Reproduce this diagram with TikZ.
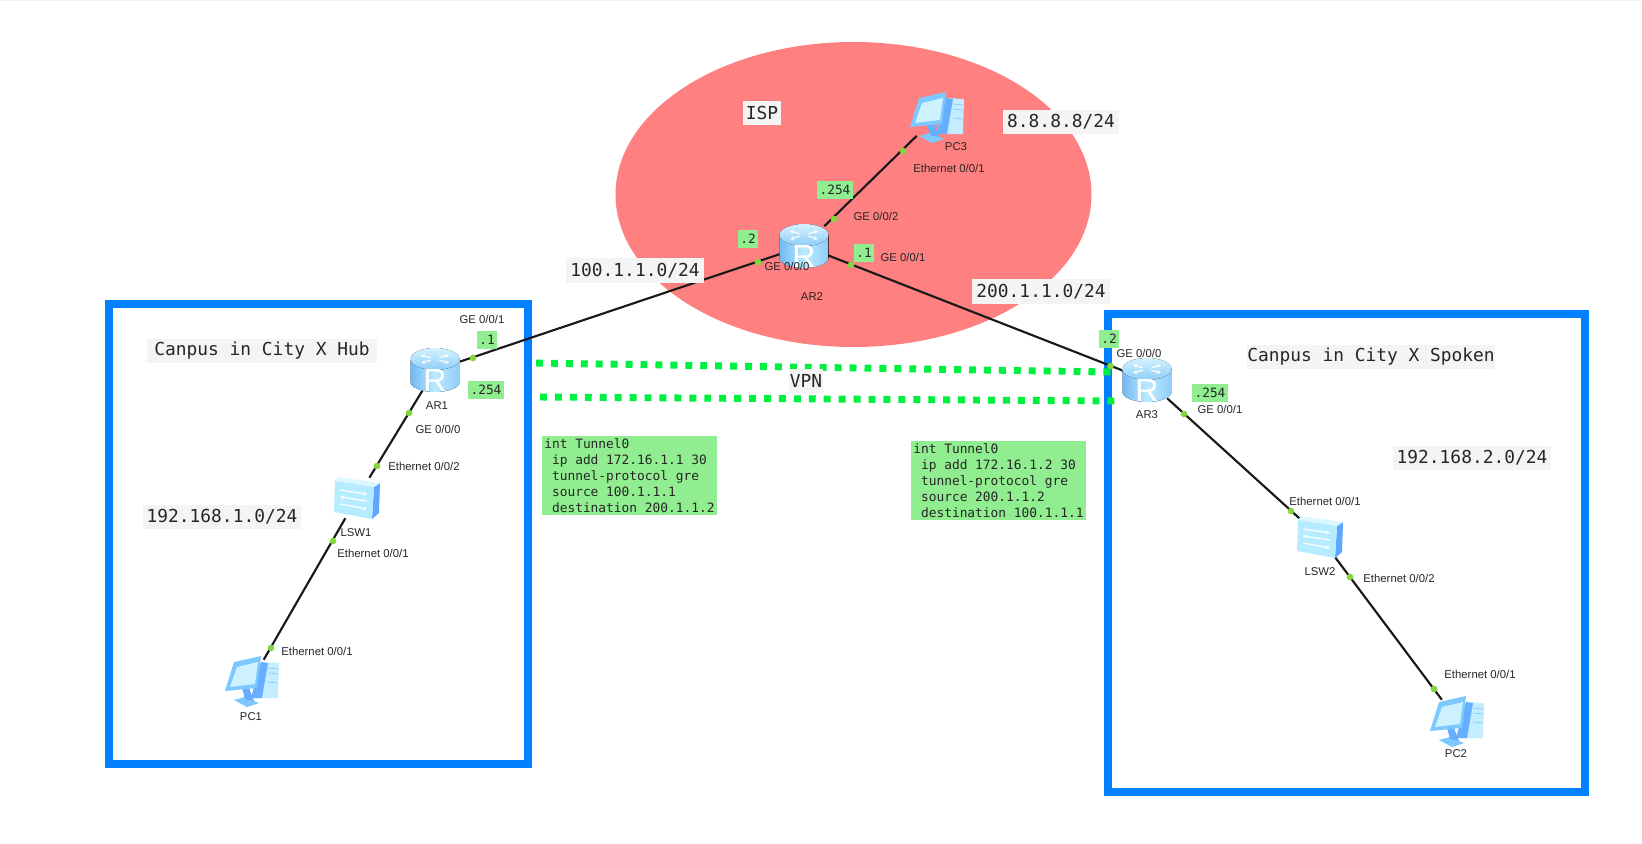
\documentclass[tikz,border=0pt]{standalone}
\usepackage{fontspec}
\setmainfont{Liberation Sans}
\newfontfamily\codefont{DejaVu Sans Mono}
\usetikzlibrary{arrows.meta}
\definecolor{ispred}{HTML}{FF8080}
\definecolor{boxblue}{HTML}{0080FF}
\definecolor{vpngreen}{HTML}{00F040}
\definecolor{notegreen}{HTML}{90EE90}
\definecolor{labelgrey}{HTML}{F4F4F4}
\definecolor{portgreen}{HTML}{84D63A}
\definecolor{rside}{HTML}{6FB9F4}
\definecolor{rsidelight}{HTML}{BDEBFF}
\definecolor{rtop}{HTML}{D4F2FF}
\definecolor{rtopdark}{HTML}{8ECDF6}
\definecolor{pcframe}{HTML}{7CC8FF}
\definecolor{pcscreen}{HTML}{CDF1FF}
\definecolor{pctower}{HTML}{C4EEFF}
\definecolor{pcside}{HTML}{66AEFF}
\definecolor{swfront}{HTML}{B6ECFF}
\definecolor{swtop}{HTML}{DDF7FF}
\definecolor{swside}{HTML}{5EA6FF}
\tikzset{
  x=0.75pt,y=-0.75pt,
  zone/.style={draw=boxblue,line width=6pt},
  link/.style={draw=black!90,line width=1.6pt},
  vpnline/.style={draw=vpngreen,line width=5.2pt,dash pattern=on 5.2pt off 6pt},
  iconbox/.style={inner sep=0pt,minimum width=30pt,minimum height=30pt},
  portdot/.style={circle,fill=portgreen,inner sep=0pt,minimum size=5pt},
  devlabel/.style={inner sep=0pt,font=\fontsize{8.5}{10}\selectfont,text=black!85},
  biglabel/.style={fill=labelgrey,inner sep=0pt,minimum height=18.5pt,font=\codefont\fontsize{13.4}{15}\selectfont,text=black!85},
  iplabel/.style={fill=notegreen,inner sep=0pt,minimum height=13pt,font=\codefont\fontsize{9.6}{11}\selectfont,text=black!85},
  notebox/.style={fill=notegreen,inner sep=1.5pt,align=left,anchor=north west,font=\codefont\fontsize{9.65}{12.15}\selectfont,text=black!85},
  pics/router/.style={code={
    \fill[left color=rside,right color=rside!60!rsidelight,middle color=rsidelight] (-24.5,-11) -- (-24.5,12) arc[start angle=180,end angle=0,x radius=24.5,y radius=10] -- (24.5,-11) -- cycle;
    \fill[top color=rtop,bottom color=rtopdark] (0,-11) ellipse[x radius=24.5,y radius=11];
    \foreach \a in {30,150,210,330}{
      \draw[white,line width=0.8pt,-{Stealth[length=3pt,width=3pt]}] ([shift={(0,-11)}]\a:5 and 2.5) -- ([shift={(0,-11)}]\a:16 and 8);
    }
    \node[text=white,inner sep=0pt,font=\fontsize{24}{24}\selectfont] at (0,10) {R};
  }},
  pics/pc/.style={code={
    \fill[pctower] (9,-18) -- (27,-17) -- (26,18) -- (-1,18) -- cycle;
    \fill[pcside] (9,-18) -- (16,-17) -- (10,18) -- (-1,18) -- cycle;
    \fill[pcframe] (-18,20) -- (-7,17) -- (7,23) -- (-5,27) -- cycle;
    \fill[pcside] (-10,8) -- (-3,8) -- (2,21) -- (-7,19) -- cycle;
    \fill[pcframe] (-18,-18) -- (9,-24) -- (5,8) -- (-27,11) -- cycle;
    \fill[pcscreen] (-15,-13) -- (6,-18) -- (3,4) -- (-22,7) -- cycle;
    \draw[pcframe,line width=0.5pt] (16,-12) -- (26,-11) (16,-7) -- (26,-6) (16,2) -- (26,3);
  }},
  pics/switch/.style={code={
    \fill[swside] (17,-11) -- (23,-15) -- (22,15) -- (15,21) -- cycle;
    \fill[swtop] (-19,-21) -- (-22,-17) -- (17,-11) -- (23,-15) -- cycle;
    \fill[swfront] (-22,-17) -- (17,-11) -- (15,21) -- (-23,14) -- cycle;
    \draw[white,line width=0.9pt,-{Stealth[length=3pt,width=3.5pt]}] (-17,-8) -- (10,-4);
    \draw[white,line width=0.9pt,{Stealth[length=3pt,width=3.5pt]}-] (-17,-1) -- (10,3);
    \draw[white,line width=0.9pt,-{Stealth[length=3pt,width=3.5pt]}] (-17,6) -- (10,11);
  }},
}
\begin{document}
\begin{tikzpicture}
\useasboundingbox (0,0) rectangle (1642,843);
\fill[white] (0,0) rectangle (1642,843);
\fill[black!6] (0,0) rectangle (1642,1);
% zones
\fill[ispred] (853.5,194.5) ellipse[x radius=238,y radius=152.5];
\draw[zone] (108.5,304) rectangle (528,764);
\draw[zone] (1108,314) rectangle (1585,792);
% device anchors
\node[iconbox] (ar1) at (435,370) {};
\node[iconbox] (ar2) at (804,246) {};
\node[iconbox] (ar3) at (1147,380) {};
\node[iconbox] (lsw1) at (357,498) {};
\node[iconbox] (lsw2) at (1320,537) {};
\node[iconbox] (pc1) at (252,680) {};
\node[iconbox] (pc2) at (1457,720) {};
\node[iconbox] (pc3) at (937,116) {};
% links
\draw[link] (ar1) -- (ar2);
\draw[link] (ar2) -- (ar3);
\draw[link] (ar2) -- (pc3);
\draw[link] (ar1) -- (lsw1);
\draw[link] (lsw1) -- (pc1);
\draw[link] (ar3) -- (lsw2);
\draw[link] (lsw2) -- (pc2);
% vpn
\coordinate (v1a) at (536,363);
\coordinate (v1b) at (1112,372);
\coordinate (v2a) at (540,397);
\coordinate (v2b) at (1118,401);
\draw[vpnline] (v1a) -- (v1b);
\draw[vpnline] (v2a) -- (v2b);
% icons
\pic at (ar1) {router};
\pic at (ar2) {router};
\pic at (ar3) {router};
\pic at (lsw1) {switch};
\pic at (lsw2) {switch};
\pic at (pc1) {pc};
\pic at (pc2) {pc};
\pic at (pc3) {pc};
% port dots
\node[portdot] (p1) at (473,358) {};
\node[portdot] (p2) at (758,262) {};
\node[portdot] (p3) at (851,265) {};
\node[portdot] (p4) at (1110.5,366) {};
\node[portdot] (p5) at (834,219) {};
\node[portdot] (p6) at (903,151) {};
\node[portdot] (p7) at (409,413) {};
\node[portdot] (p8) at (377,466) {};
\node[portdot] (p9) at (333,541) {};
\node[portdot] (p10) at (271,648) {};
\node[portdot] (p11) at (1184,414) {};
\node[portdot] (p12) at (1291,511) {};
\node[portdot] (p13) at (1350,577) {};
\node[portdot] (p14) at (1434,689) {};
% device names
\node[devlabel] (lar1) at (437,406) {AR1};
\node[devlabel] (lar2) at (812,297) {AR2};
\node[devlabel] (lar3) at (1147,415) {AR3};
\node[devlabel] (llsw1) at (356,533) {LSW1};
\node[devlabel] (llsw2) at (1320,572) {LSW2};
\node[devlabel] (lpc1) at (251,717) {PC1};
\node[devlabel] (lpc2) at (1456,754) {PC2};
\node[devlabel] (lpc3) at (956,147) {PC3};
% port names
\node[devlabel] (g1) at (482,319) {GE 0/0/1};
\node[devlabel] (g2) at (438,429) {GE 0/0/0};
\node[devlabel] (g3) at (424,466) {Ethernet 0/0/2};
\node[devlabel] (g4) at (373,553) {Ethernet 0/0/1};
\node[devlabel] (g5) at (317,651) {Ethernet 0/0/1};
\node[devlabel] (g6) at (787,266) {GE 0/0/0};
\node[devlabel] (g7) at (903,257) {GE 0/0/1};
\node[devlabel] (g8) at (876,216) {GE 0/0/2};
\node[devlabel] (g9) at (949,168) {Ethernet 0/0/1};
\node[devlabel] (g10) at (1139,353) {GE 0/0/0};
\node[devlabel] (g11) at (1220,409) {GE 0/0/1};
\node[devlabel] (g12) at (1325,501) {Ethernet 0/0/1};
\node[devlabel] (g13) at (1399,578) {Ethernet 0/0/2};
\node[devlabel] (g14) at (1480,674) {Ethernet 0/0/1};
% ip suffixes
\node[iplabel,minimum width=15pt] (i1) at (487,340) {.1};
\node[iplabel,minimum width=27pt] (i2) at (486,390) {.254};
\node[iplabel,minimum width=15.5pt] (i3) at (748,239) {.2};
\node[iplabel,minimum width=15pt] (i4) at (864,253) {.1};
\node[iplabel,minimum width=27pt] (i5) at (835,190) {.254};
\node[iplabel,minimum width=15pt] (i6) at (1109,339) {.2};
\node[iplabel,minimum width=27pt] (i7) at (1210,393) {.254};
% big labels
\node[biglabel,minimum width=29pt] (t1) at (762,113) {ISP};
\node[biglabel,minimum width=87pt] (t2) at (1061,122) {8.8.8.8/24};
\node[biglabel,minimum width=103pt] (t3) at (635,270.5) {100.1.1.0/24};
\node[biglabel,minimum width=103pt] (t4) at (1041,291.5) {200.1.1.0/24};
\node[biglabel,minimum width=26pt] (t5) at (806,381) {VPN};
\node[biglabel,minimum width=172pt] (t6) at (262,351) {Canpus in City X Hub};
\node[biglabel,minimum width=180pt] (t7) at (1371,357) {Canpus in City X Spoken};
\node[biglabel,minimum width=118pt] (t8) at (222,517) {192.168.1.0/24};
\node[biglabel,minimum width=118pt] (t9) at (1472,458) {192.168.2.0/24};
% notes
\node[notebox] (n1) at (542,436) {int Tunnel0\\\ ip add 172.16.1.1 30\\\ tunnel-protocol gre\\\ source 100.1.1.1\\\ destination 200.1.1.2};
\node[notebox] (n2) at (911,441) {int Tunnel0\\\ ip add 172.16.1.2 30\\\ tunnel-protocol gre\\\ source 200.1.1.2\\\ destination 100.1.1.1};
\end{tikzpicture}
\end{document}
